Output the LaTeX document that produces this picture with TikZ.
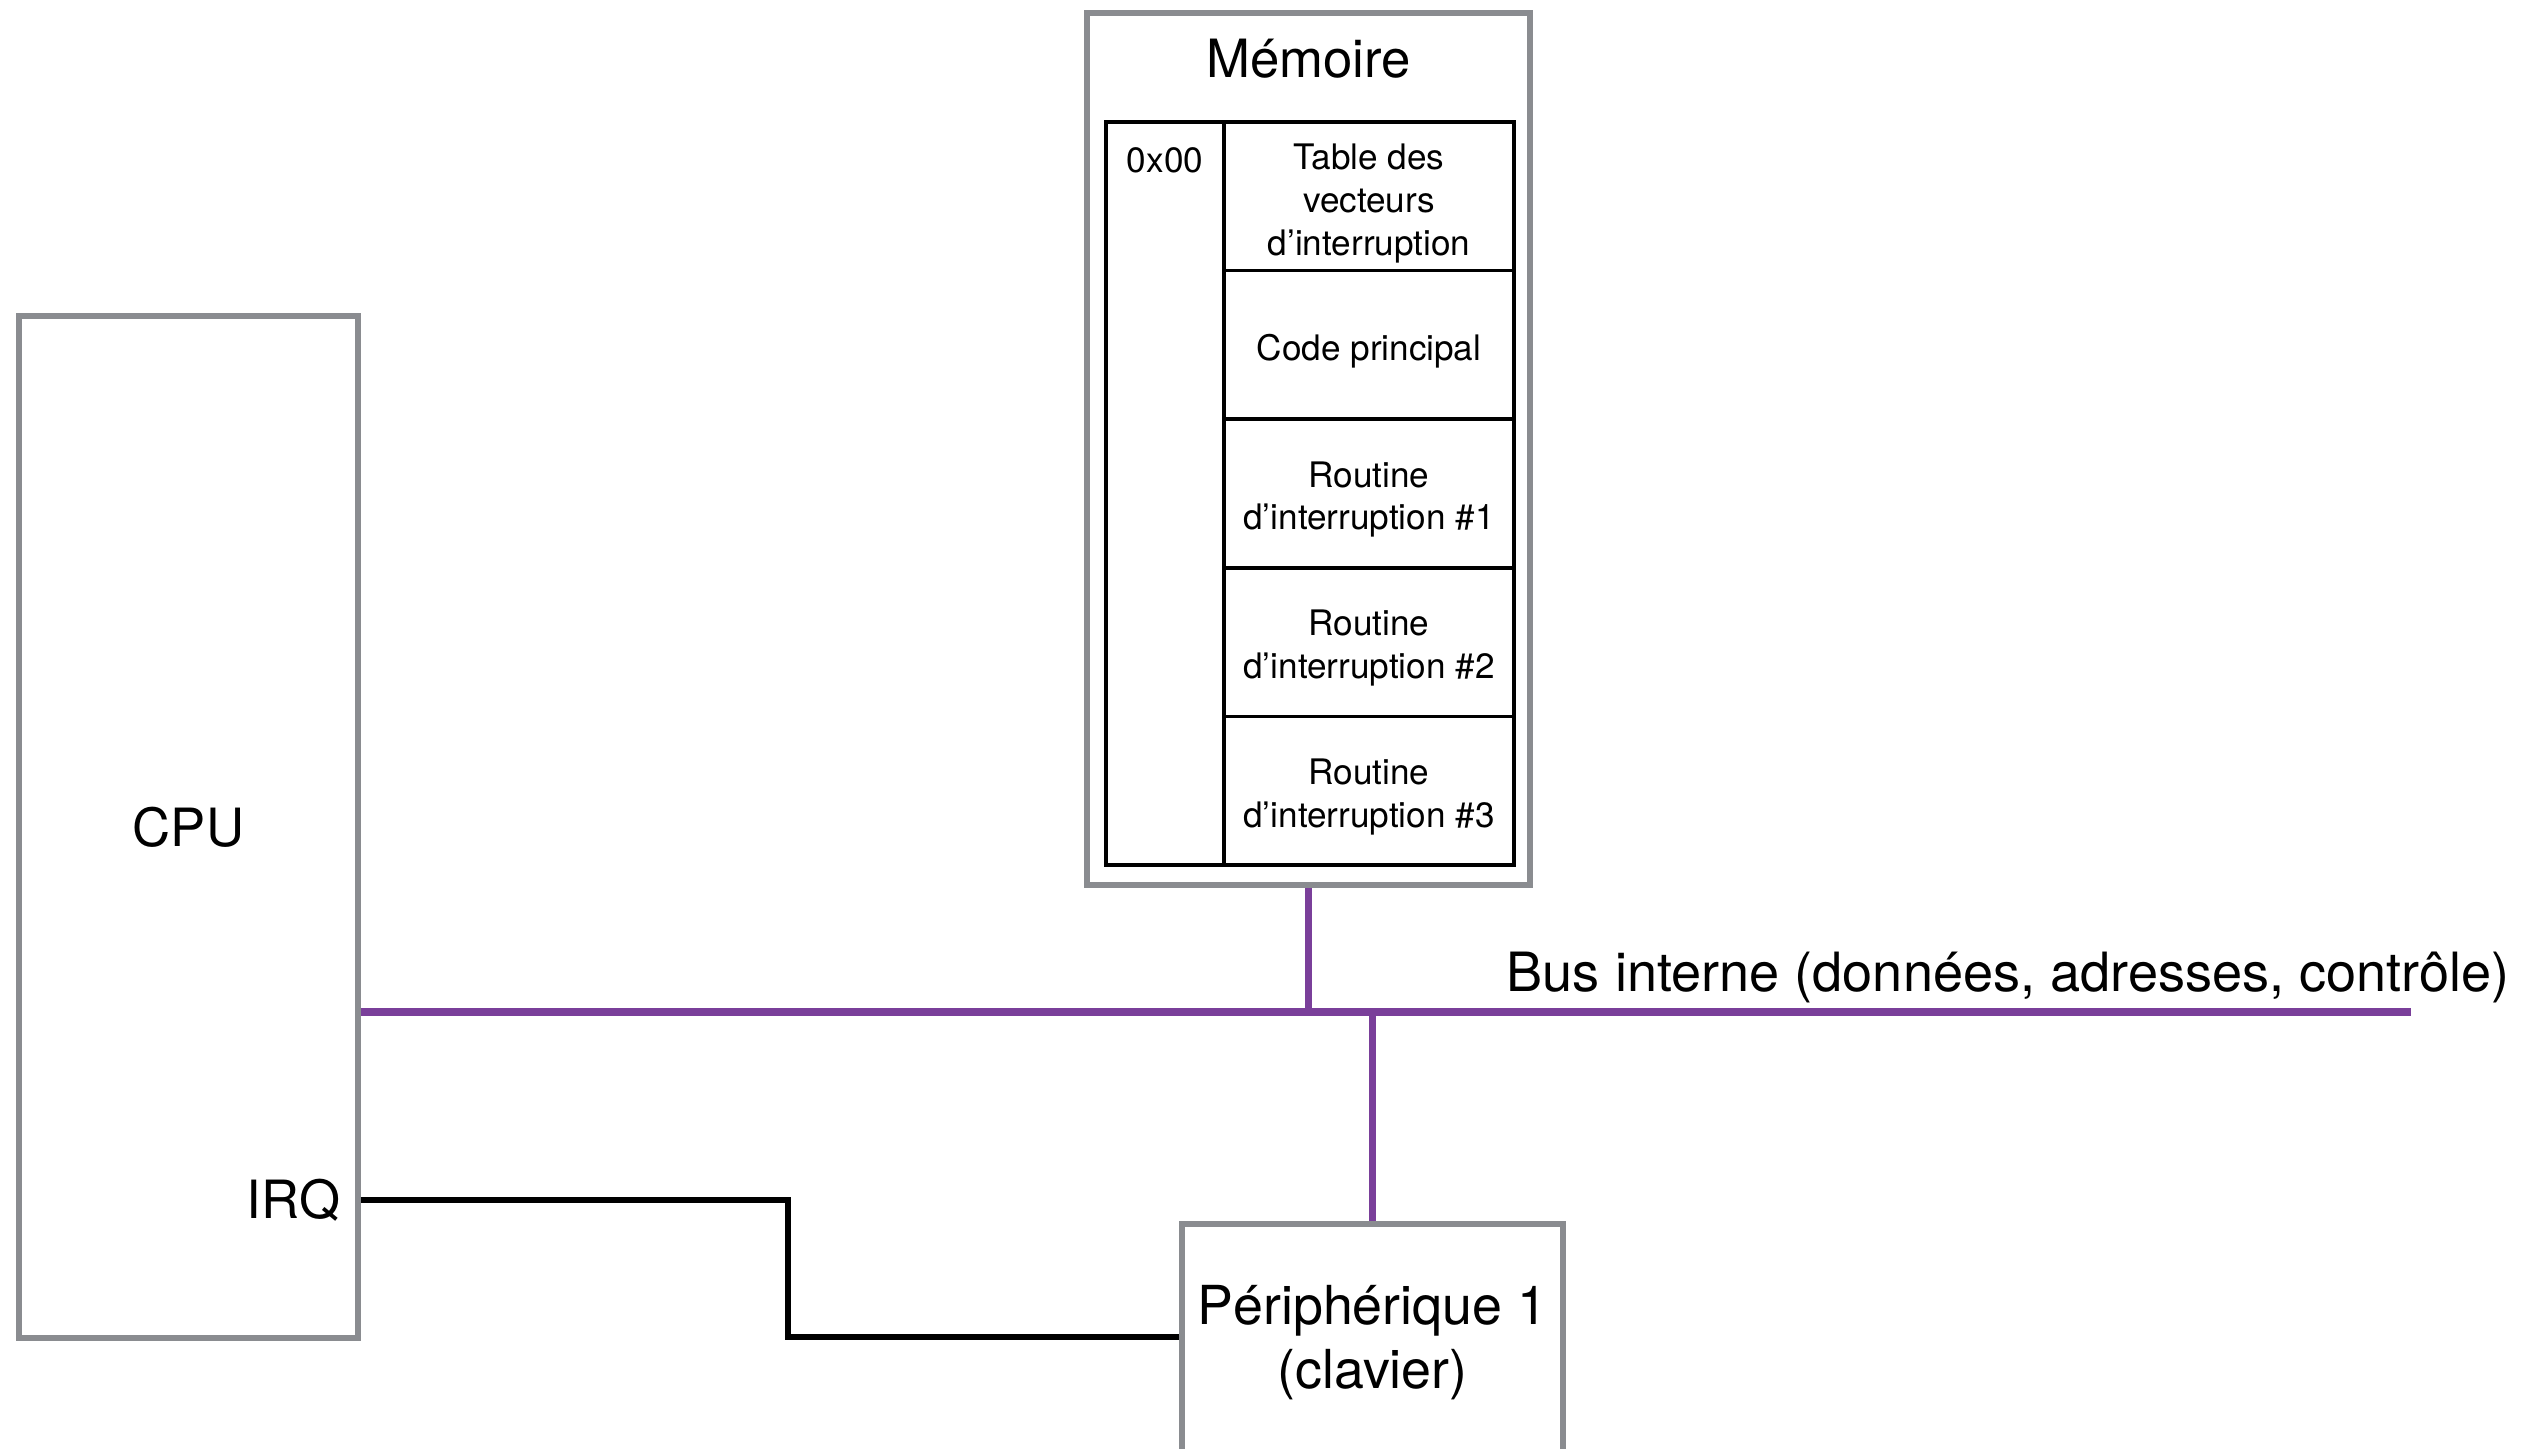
\documentclass[tikz,border=0pt]{standalone}
\usepackage{fontspec}
\setmainfont{TeX Gyre Heros}
\usepackage{tikz}
\usetikzlibrary{positioning}

\definecolor{boxgray}{RGB}{138,140,144}
\definecolor{buspurple}{RGB}{122,63,154}

\tikzset{
  unitbox/.style={rectangle,draw=boxgray,line width=1.6pt,inner sep=0pt},
  memcell/.style={rectangle,draw=black,line width=1pt,inner sep=0pt,minimum width=2.90cm,minimum height=1.486cm},
  celltext/.style={align=center,inner sep=0pt,font=\fontsize{10}{12.2}\selectfont},
  bigtext/.style={font=\fontsize{15}{18}\selectfont},
  bus/.style={draw=buspurple,line width=2.3pt},
  buslink/.style={draw=buspurple,line width=1.9pt},
  irqwire/.style={draw=black,line width=1.5pt}
}

\begin{document}
\begin{tikzpicture}

        \useasboundingbox (0,0) rectangle (25.25,-14.49);

        % CPU
        \node[unitbox,minimum width=3.39cm,minimum height=10.22cm] (cpu) at (1.885,-8.27) {};
        \node[bigtext] (cpulabel) at (1.885,-8.27) {CPU};
        \node[bigtext,anchor=east,inner sep=0pt] (irq) at (3.41,-12.00) {IRQ};

        % memoire
        \node[unitbox,minimum width=4.43cm,minimum height=8.72cm] (mem) at (13.085,-4.49) {};
        \node[bigtext,anchor=base,inner sep=0pt] (memlabel) at (13.085,-0.77) {Mémoire};
        \node[rectangle,draw=black,line width=1pt,inner sep=0pt,minimum width=1.18cm,minimum height=7.43cm] (addr) at (11.65,-4.935) {};
        \node[font=\fontsize{10}{12}\selectfont] (addrlabel) at (11.65,-1.60) {0x00};

        \node[memcell] (row1) at (13.69,-1.963) {};
        \node[memcell] (row2) at (13.69,-3.449) {};
        \node[memcell] (row3) at (13.69,-4.935) {};
        \node[memcell] (row4) at (13.69,-6.421) {};
        \node[memcell] (row5) at (13.69,-7.907) {};
        \node[celltext] (row1text) at ([yshift=-0.07cm]row1.center) {Table des\\vecteurs\\d’interruption};
        \node[celltext] (row2text) at ([yshift=-0.06cm]row2.center) {Code principal};
        \node[celltext] (row3text) at ([yshift=-0.06cm]row3.center) {Routine\\d’interruption \#1};
        \node[celltext] (row4text) at ([yshift=-0.06cm]row4.center) {Routine\\d’interruption \#2};
        \node[celltext] (row5text) at ([yshift=-0.06cm]row5.center) {Routine\\d’interruption \#3};

        % peripherique
        \node[unitbox,minimum width=3.81cm,minimum height=2.38cm,align=center,font=\fontsize{15.3}{18.2}\selectfont] (peri) at (13.725,-13.43) {Périphérique 1\\(clavier)};

        % bus
        \coordinate (busend) at (24.11,-10.12);
        \draw[bus] (cpu.east |- busend) -- (busend);
        \node[font=\fontsize{15.4}{18}\selectfont,anchor=base west,inner sep=0pt] (buslabel) at (15.06,-9.91) {Bus interne (données, adresses, contrôle)};
        \draw[buslink] (mem.south) -- (mem.south |- busend);
        \draw[buslink] (peri.north) -- (peri.north |- busend);

        % IRQ
        \coordinate (irqpin) at (cpu.east |- irq);
        \coordinate (bend) at (7.88,-13.37);
        \draw[irqwire] (irqpin) -| (bend) -- (peri.west |- bend);

    \end{tikzpicture}
\end{document}
